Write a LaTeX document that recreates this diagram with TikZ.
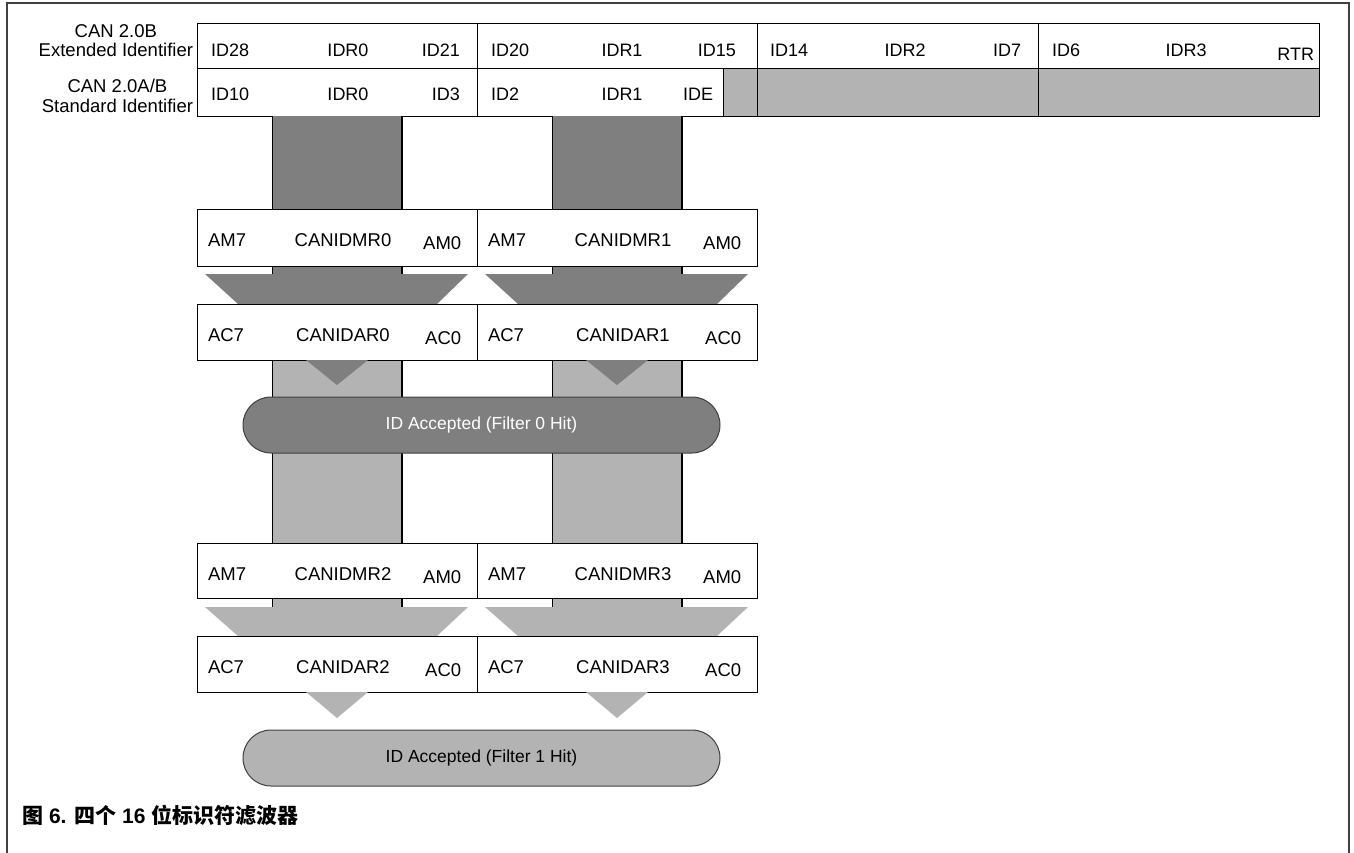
\documentclass[tikz,border=0pt]{standalone}
\usepackage{fontspec}
\setmainfont{Liberation Sans}
\newfontfamily\cjk{Noto Sans CJK SC}
\definecolor{dk}{HTML}{7F7F7F}
\definecolor{lt}{HTML}{B3B3B3}
\definecolor{frm}{HTML}{404040}
\begin{document}
\begin{tikzpicture}[x=1pt,y=-1pt,
  txt/.style={font=\fontsize{18}{19}\selectfont, inner sep=0pt, outer sep=0pt},
  side/.style={font=\fontsize{18.5}{19}\selectfont, inner sep=0pt, outer sep=0pt},
  reg/.style={font=\fontsize{18.5}{20}\selectfont, inner sep=0pt, outer sep=0pt},
  cellbox/.style={draw=black, line width=1pt, inner sep=0pt, anchor=north west},
  regcell/.style={draw=black, line width=1.2pt, fill=white, inner sep=0pt, anchor=north west, minimum width=280pt},
  pill/.style={draw=frm, line width=1pt, rounded corners=28pt, minimum width=477pt, minimum height=56pt, inner sep=0pt, font=\fontsize{17.5}{20}\selectfont},
  baredge/.style={draw=black, line width=0.6pt},
  baredgeR/.style={draw=black, line width=1.3pt}]
\useasboundingbox (0,0) rectangle (1354,853);
% outer frame
\draw[frm, line width=2pt] (7,853) -- (7,3) -- (1349,3) -- (1349,853);

% ---- top table ----
\fill[lt] (723,69) rectangle (1319,116);
\node[cellbox, minimum width=1122pt, minimum height=93pt] (tab) at (197,23) {};
\draw[line width=1pt] (197,69) -- (1319,69);
\foreach \xx in {477,757,1038} \draw[line width=1pt] (\xx,23) -- (\xx,116);
\draw[line width=1pt] (723,69) -- (723,116);

% left labels
\node[side, anchor=base east] (ext) at (193,57) {Extended Identifier};
\path (ext.base) ++(0,-19) node[side, anchor=base] (can0) {CAN 2.0B};
\node[side, anchor=base east] (std) at (193,113) {Standard Identifier};
\path (std.base) ++(0,-20) node[side, anchor=base] (can1) {CAN 2.0A/B};

% row 1 texts
\node[txt, anchor=base west] (t1) at (211,57) {ID28};
\node[txt, anchor=base] (t2) at (348,57) {IDR0};
\node[txt, anchor=base east] (t3) at (460,57) {ID21};
\node[txt, anchor=base west] (t4) at (491,57) {ID20};
\node[txt, anchor=base] (t5) at (622,57) {IDR1};
\node[txt, anchor=base east] (t6) at (736,57) {ID15};
\node[txt, anchor=base west] (t7) at (770,57) {ID14};
\node[txt, anchor=base] (t8) at (905,57) {IDR2};
\node[txt, anchor=base east] (t9) at (1021,57) {ID7};
\node[txt, anchor=base west] (t10) at (1052,57) {ID6};
\node[txt, anchor=base] (t11) at (1186,57) {IDR3};
\node[txt, anchor=base east] (t12) at (1314,61) {RTR};
% row 2 texts
\node[txt, anchor=base west] (s1) at (211,101) {ID10};
\node[txt, anchor=base] (s2) at (348,101) {IDR0};
\node[txt, anchor=base east] (s3) at (460,101) {ID3};
\node[txt, anchor=base west] (s4) at (491,101) {ID2};
\node[txt, anchor=base] (s5) at (622,101) {IDR1};
\node[txt, anchor=base east] (s6) at (713,101) {IDE};

% ---- bars ----
\foreach \bx in {272,552} {
  \fill[dk] (\bx,116) rectangle (\bx+130,274);
  \draw[baredge] (\bx,116) -- (\bx,274);
  \draw[baredgeR] (\bx+130,116) -- (\bx+130,274);
  \fill[lt] (\bx,360) rectangle (\bx+130,607);
  \draw[baredge] (\bx,360) -- (\bx,607);
  \draw[baredgeR] (\bx+130,360) -- (\bx+130,607);
}
% trapezoids
\foreach \ox in {0,280} {
  \fill[dk] (205+\ox,274) -- (468+\ox,274) -- (437+\ox,304) -- (238+\ox,304) -- cycle;
  \fill[lt] (205+\ox,607) -- (468+\ox,607) -- (437+\ox,636) -- (238+\ox,636) -- cycle;
}

% ---- register boxes ----
\newcommand\regbox[6]{%
  \node[regcell, minimum height=#6] (#1) at (#2) {};
  \node[reg, anchor=base west] (#1l) at ([shift={(11,37)}]#1.north west) {#3};
  \node[reg, anchor=base] (#1m) at ([shift={(146,37)}]#1.north west) {#4};
  \node[reg, anchor=base east] (#1r) at ([shift={(-17,40)}]#1.north east) {#5};
}
\regbox{mr0}{197,209}{AM7}{CANIDMR0}{AM0}{57pt}
\regbox{mr1}{477,209}{AM7}{CANIDMR1}{AM0}{57pt}
\regbox{ar0}{197,304}{AC7}{CANIDAR0}{AC0}{56pt}
\regbox{ar1}{477,304}{AC7}{CANIDAR1}{AC0}{56pt}
\regbox{mr2}{197,543}{AM7}{CANIDMR2}{AM0}{55pt}
\regbox{mr3}{477,543}{AM7}{CANIDMR3}{AM0}{55pt}
\regbox{ar2}{197,636}{AC7}{CANIDAR2}{AC0}{56pt}
\regbox{ar3}{477,636}{AC7}{CANIDAR3}{AC0}{56pt}

% triangles
\foreach \cx in {337,617} {
  \fill[dk] (\cx-31,360) -- (\cx+31,360) -- (\cx,385) -- cycle;
  \fill[lt] (\cx-31,692) -- (\cx+31,692) -- (\cx,718) -- cycle;
}

% pills
\node[pill, fill=dk, text=white] (hit0) at (481.5,425) {ID Accepted (Filter 0 Hit)};
\node[pill, fill=lt, text=black] (hit1) at (481.5,758) {ID Accepted (Filter 1 Hit)};

% caption
\node[anchor=base west, inner sep=0pt, font=\bfseries\fontsize{21}{24}\selectfont] (cap) at (22,823)
  {{\cjk 图} 6. {\cjk 四个} 16 {\cjk 位标识符滤波器}};
\end{tikzpicture}
\end{document}
